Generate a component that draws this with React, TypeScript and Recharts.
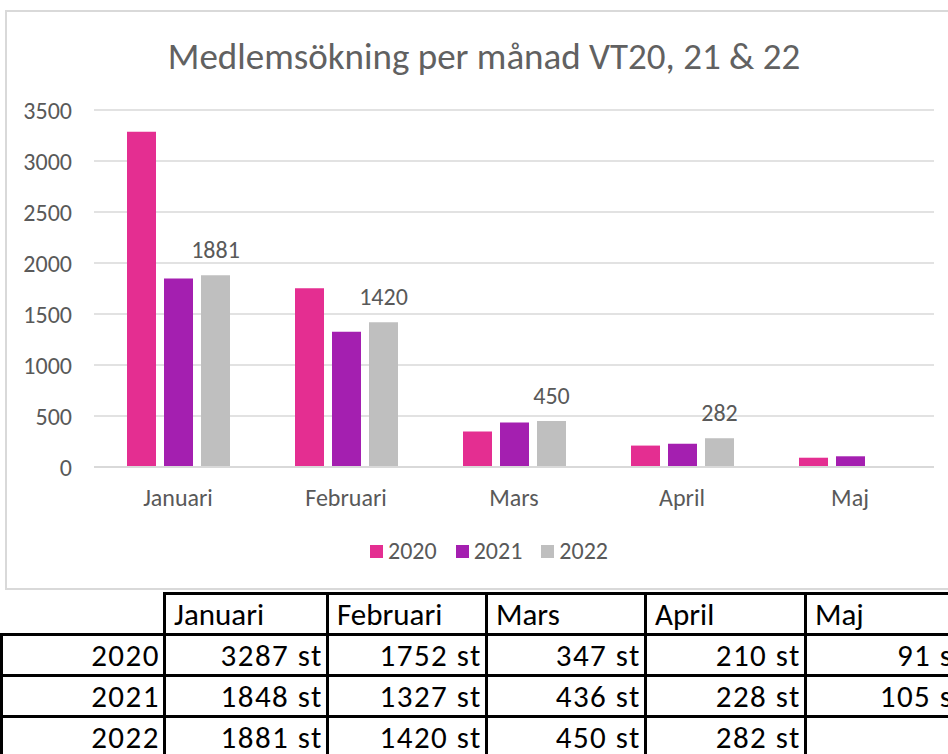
import React from "react";
import { BarChart, Bar, XAxis, YAxis, CartesianGrid, Legend, LabelList } from "recharts";

const months = ["Januari", "Februari", "Mars", "April", "Maj"];
const years = ["2020", "2021", "2022"];
const values2020 = [3287, 1752, 347, 210, 91];
const values2021 = [1848, 1327, 436, 228, 105];
const values2022: (number | null)[] = [1881, 1420, 450, 282, null];
const yTicks = [0, 500, 1000, 1500, 2000, 2500, 3000, 3500];

const colors = ["#E42E91", "#A41FB0", "#BFBFBF"];
const axisText = "#595959";
const gridColor = "#D9D9D9";
const font = "Calibri, Carlito, 'Liberation Sans Narrow', 'Open Sans', sans-serif";

const data = months.map((m, i) => ({
  month: m,
  y2020: values2020[i],
  y2021: values2021[i],
  y2022: values2022[i],
}));
const series = [values2020, values2021, values2022];

const LegendContent = () => (
  <div style={{ display: "flex", justifyContent: "center", fontFamily: font, fontSize: 24, color: axisText, lineHeight: "26px" }}>
    {years.map((y, i) => (
      <div key={y} style={{ display: "flex", alignItems: "center", marginRight: i < 2 ? 19 : 0 }}>
        <span style={{ width: 13, height: 13, background: colors[i], marginRight: 5, display: "inline-block" }} />
        <span>{y}</span>
      </div>
    ))}
  </div>
);

const cellBorder = "3px solid #000";
const numCell: React.CSSProperties = {
  border: cellBorder,
  padding: "0 3px 0 0",
  textAlign: "right",
  whiteSpace: "nowrap",
  lineHeight: "36px",
  letterSpacing: 1.5,
};

export default function App() {
  return (
    <div style={{ position: "absolute", left: 0, top: 0, width: 948, height: 754, overflow: "hidden", background: "#fff" }}>
      {/* chart frame */}
      <div
        style={{
          position: "absolute",
          left: 5,
          top: 10,
          width: 980,
          height: 580,
          border: `2px solid ${gridColor}`,
          boxSizing: "border-box",
        }}
      />
      <div
        style={{
          position: "absolute",
          left: 0,
          top: 34,
          width: 968,
          textAlign: "center",
          fontFamily: font,
          fontSize: 37,
          lineHeight: "45px",
          color: "#616161",
        }}
      >
        Medlemsökning per månad VT20, 21 &amp; 22
      </div>
      <div style={{ position: "absolute", left: 0, top: 0 }}>
        <BarChart
          width={948}
          height={590}
          data={data}
          margin={{ top: 110, right: 14, left: 0, bottom: 63 }}
          barSize={29}
          barGap={8}
        >
          <CartesianGrid vertical={false} stroke={gridColor} strokeWidth={1.5} />
          <XAxis
            dataKey="month"
            axisLine={{ stroke: gridColor, strokeWidth: 2 }}
            tickLine={false}
            tickSize={0}
            tickMargin={22}
            tick={{ fill: axisText, fontSize: 24, fontFamily: font }}
            height={60}
          />
          <YAxis
            domain={[0, 3500]}
            ticks={yTicks}
            axisLine={false}
            tickLine={false}
            tickSize={0}
            tickMargin={22}
            width={94}
            tick={{ fill: axisText, fontSize: 24, fontFamily: font }}
          />
          <Legend
            layout="horizontal"
            verticalAlign="middle"
            align="center"
            content={<LegendContent />}
            wrapperStyle={{ position: "absolute", top: 538, left: 0, width: 978, height: 26 }}
          />
          {years.map((y, i) => (
            <Bar key={y} dataKey={`y${y}`} name={y} fill={colors[i]} isAnimationActive={false}>
              {i === 2 && (
                <LabelList
                  dataKey={`y${y}`}
                  position="top"
                  offset={17}
                  fill={axisText}
                  fontSize={24}
                  fontFamily={font}
                />
              )}
            </Bar>
          ))}
        </BarChart>
      </div>
      {/* data table */}
      <table
        style={{
          position: "absolute",
          left: 0,
          top: 592,
          borderCollapse: "collapse",
          tableLayout: "fixed",
          width: 968,
          fontFamily: font,
          fontSize: 31,
          color: "#000",
        }}
      >
        <colgroup>
          <col style={{ width: 163 }} />
          <col style={{ width: 163 }} />
          <col style={{ width: 159 }} />
          <col style={{ width: 159 }} />
          <col style={{ width: 160 }} />
          <col style={{ width: 164 }} />
        </colgroup>
        <tbody>
          <tr style={{ height: 41 }}>
            <td style={{ border: "none", borderBottom: cellBorder }} />
            {months.map((m) => (
              <td key={m} style={{ border: cellBorder, padding: "0 8px", textAlign: "left", lineHeight: "36px" }}>
                {m}
              </td>
            ))}
          </tr>
          {years.map((y, r) => (
            <tr key={y} style={{ height: 41 }}>
              <td style={numCell}>{y}</td>
              {series[r].map((v, c) => (
                <td key={c} style={numCell}>
                  {v == null ? "" : `${v} st`}
                </td>
              ))}
            </tr>
          ))}
        </tbody>
      </table>
    </div>
  );
}
